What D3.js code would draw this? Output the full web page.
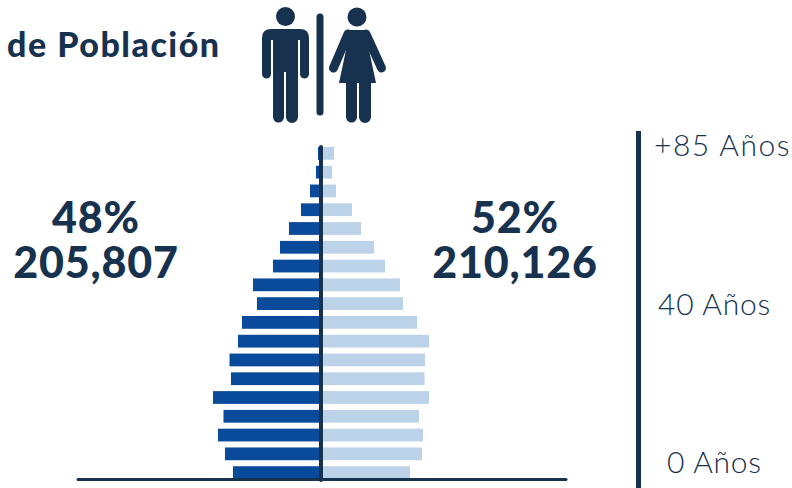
<!DOCTYPE html>
<html lang="es">
<head>
<meta charset="utf-8">
<title>Pirámide de Población</title>
<script src="https://cdn.jsdelivr.net/npm/d3@7"></script>
<style>
  html, body { margin: 0; padding: 0; background: #fff; }
  svg { display: block; }
  text { font-family: Lato, "Open Sans", sans-serif; fill: #17324f; }
  .big { font-weight: 900; font-size: 43px; letter-spacing: 0.8px; text-anchor: middle; }
  .age { font-weight: 300; font-size: 30px; letter-spacing: 0.8px; }
  .head { font-weight: 900; font-size: 34px; letter-spacing: 1.5px; }
</style>
</head>
<body>
<svg id="chart" width="792" height="488"></svg>
<script>
// Five-year age groups, oldest first
const ageGroups = ["85+","80-84","75-79","70-74","65-69","60-64","55-59","50-54","45-49","40-44","35-39","30-34","25-29","20-24","15-19","10-14","5-9","0-4"];
// Estimated population per group
const men   = [600,940,1960,3490,5530,7060,8250,11650,10970,13520,14200,15640,15390,18450,16660,17600,16410,15050];
const women = [2130,1790,2470,5190,6720,8930,10800,13350,13860,16240,18280,17600,17510,18280,16580,17260,17090,15050];
// Totals shown beside the pyramid
const menTotal = ["48%", "205,807"];
const womenTotal = ["52%", "210,126"];
// Labels on the age rule
const ageLabels = ["+85 Años", "40 Años", "0 Años"];

const navy = "#17324f", maleBlue = "#0a4a9a", femaleBlue = "#bcd2e8";
const svg = d3.select("#chart");

const y = d3.scaleBand().domain(ageGroups).range([144, 482]).paddingInner(0.32).paddingOuter(0.16);
const cx = 321.5;
const len = d3.scaleLinear().domain([0, 17000]).range([0, 100]);

svg.append("g").selectAll("rect").data(men).join("rect")
  .attr("x", d => cx - len(d)).attr("y", (d, i) => y(ageGroups[i]))
  .attr("width", d => len(d)).attr("height", y.bandwidth()).attr("fill", maleBlue);
svg.append("g").selectAll("rect").data(women).join("rect")
  .attr("x", cx).attr("y", (d, i) => y(ageGroups[i]))
  .attr("width", d => len(d)).attr("height", y.bandwidth()).attr("fill", femaleBlue);

// Axis lines of the pyramid
svg.append("line").attr("x1", 78).attr("x2", 566).attr("y1", 479.5).attr("y2", 479.5)
  .attr("stroke", navy).attr("stroke-width", 3).attr("stroke-linecap", "round");
svg.append("line").attr("x1", 321).attr("x2", 321).attr("y1", 147).attr("y2", 480)
  .attr("stroke", navy).attr("stroke-width", 4).attr("stroke-linecap", "round");

// Age rule and its labels
const labelX = [654, 658, 667], labelY = [156, 315, 473];
svg.append("rect").attr("x", 636).attr("y", 131).attr("width", 5).attr("height", 357).attr("fill", navy);
svg.append("g").selectAll("text").data(ageLabels).join("text").attr("class", "age")
  .attr("x", (d, i) => labelX[i]).attr("y", (d, i) => labelY[i])
  .style("letter-spacing", (d, i) => i === 0 ? "1.5px" : null).text(d => d);

// Heading
svg.append("text").attr("class", "head").attr("x", 7).attr("y", 57).text("de Población");

// Totals per sex: percentage over head count, two lines of one text
[[menTotal, 96], [womenTotal, 515]].forEach(([lines, x]) => {
  const t = svg.append("text").attr("class", "big");
  t.append("tspan").attr("x", x).attr("y", 233).text(lines[0]);
  t.append("tspan").attr("x", x).attr("y", 278).text(lines[1]);
});

// Man / woman pictogram
const icon = svg.append("g").attr("fill", navy);
icon.append("circle").attr("cx", 285.5).attr("cy", 16.5).attr("r", 9.5);
icon.append("circle").attr("cx", 357).attr("cy", 17).attr("r", 9.5);
icon.append("path").attr("d",
  "M271 29 H300 Q309 29 309 38 V74 A4.5 4.5 0 0 1 300 74 V40 H298 V117 A5.8 5.8 0 0 1 286 117 V72 H284 V117 A5.5 5.5 0 0 1 273 117 V40 H271 V74 A4.5 4.5 0 0 1 262 74 V38 Q262 29 271 29 Z");
icon.append("path").attr("d",
  "M346 30 H368 L369 50 L376 83 H371 V117 A6 6 0 0 1 359 117 V83 H357 V117 A5.5 5.5 0 0 1 346 117 V83 H339 L346 50 Z");
icon.append("g").attr("stroke", navy).attr("stroke-width", 9).attr("stroke-linecap", "round")
  .selectAll("line").data([[348, 34, 333.5, 68], [366, 34, 381.5, 68]]).join("line")
  .attr("x1", d => d[0]).attr("y1", d => d[1]).attr("x2", d => d[2]).attr("y2", d => d[3]);
icon.append("line").attr("x1", 320).attr("x2", 320).attr("y1", 17).attr("y2", 112)
  .attr("stroke", navy).attr("stroke-width", 7).attr("stroke-linecap", "round");
</script>
</body>
</html>
